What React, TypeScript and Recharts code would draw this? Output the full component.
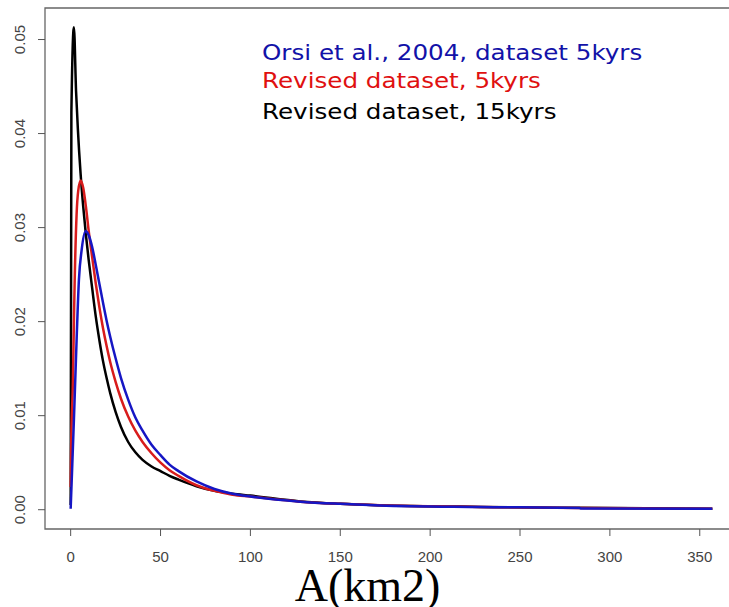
import { LineChart, Line, XAxis, YAxis, ReferenceArea } from "recharts";

// Orsi et al., 2004, dataset 5kyrs (blue)
const orsiX = [0, 0.83, 1.83, 3.33, 4.6, 6.1, 8.3, 10, 12, 14, 16, 18, 20, 22, 25, 28, 32, 36, 40, 45, 50, 55, 60, 70, 80, 90, 100, 127.8, 150, 172, 228, 283, 284, 357];
const orsiY = [0.0001, 0.0044, 0.0097, 0.0182, 0.0245, 0.0276, 0.0296, 0.0292, 0.0279, 0.026, 0.024, 0.022, 0.0201, 0.0184, 0.0161, 0.014, 0.0117, 0.0098, 0.0084, 0.0069, 0.0058, 0.0048, 0.0041, 0.003, 0.0022, 0.0017, 0.0014, 0.00085, 0.00062, 0.00046, 0.00029, 0.00018, 0.00014, 0.0001];

// Revised dataset, 5kyrs (red)
const rev5X = [0, 0.28, 1.28, 1.83, 2.2, 3.3, 4.2, 5.6, 7, 8.5, 10, 12, 14, 16, 18, 20, 22, 25, 28, 32, 36, 40, 45, 50, 55, 60, 70, 80, 90, 100, 127.8, 150, 172, 228, 283, 313, 357];
const rev5Y = [0.0024, 0.0067, 0.0139, 0.0203, 0.024, 0.0314, 0.0339, 0.035, 0.0342, 0.0322, 0.0297, 0.0268, 0.024, 0.0215, 0.0193, 0.0174, 0.0157, 0.0136, 0.0118, 0.0099, 0.0084, 0.0072, 0.006, 0.005, 0.0042, 0.0036, 0.0026, 0.002, 0.0016, 0.0014, 0.00085, 0.00062, 0.00047, 0.0003, 0.00017, 0.00015, 0.0001];

// Revised dataset, 15kyrs (black)
const rev15X = [0, 0.4, 1.8, 3, 4, 5.5, 7, 8.5, 10, 12, 14, 16, 18, 20, 22, 25, 28, 32, 36, 40, 45, 50, 55, 60, 70, 80, 90, 100, 127.8, 150, 172, 228, 283, 357];
const rev15Y = [0.0005, 0.0422, 0.0513, 0.0445, 0.0405, 0.0358, 0.0322, 0.0292, 0.0266, 0.0235, 0.0205, 0.018, 0.0158, 0.014, 0.0124, 0.0104, 0.0088, 0.0072, 0.0061, 0.0053, 0.0046, 0.0041, 0.0036, 0.0032, 0.0025, 0.002, 0.0017, 0.0015, 0.00088, 0.00063, 0.00048, 0.0003, 0.0002, 0.0001];

const xTicks = [0, 50, 100, 150, 200, 250, 300, 350];
const yTicks = [0, 0.01, 0.02, 0.03, 0.04, 0.05];
const legendLabels = ["Orsi et al., 2004, dataset 5kyrs", "Revised dataset, 5kyrs", "Revised dataset, 15kyrs"];
const xTitle = "A(km2)";

const X_DOMAIN: [number, number] = [-14.28, 371.28];
const Y_DOMAIN: [number, number] = [-0.002052, 0.053352];

const toPoints = (xs: number[], ys: number[]) => xs.map((x, i) => ({ x, y: ys[i] }));

const orsi = toPoints(orsiX, orsiY);
const rev5 = toPoints(rev5X, rev5Y);
const rev15 = toPoints(rev15X, rev15Y);

const tickFont = { fontFamily: "'Liberation Sans', Arial, sans-serif", fontSize: 15, fill: "#444" };

const YTick = (props: any) => {
  const { x, y, payload } = props;
  return (
    <text x={x} y={y} transform={`rotate(-90 ${x} ${y})`} textAnchor="middle" {...tickFont}>
      {Number(payload.value).toFixed(2)}
    </text>
  );
};

export default function App() {
  return (
    <div style={{ position: "absolute", left: 0, top: 0, width: 729, height: 607, overflow: "hidden", background: "#fff" }}>
      <LineChart width={742} height={607} margin={{ top: 8, right: 4, left: 0, bottom: 0 }}>
        <XAxis
          type="number"
          dataKey="x"
          domain={X_DOMAIN}
          ticks={xTicks}
          allowDataOverflow
          height={78}
          tickSize={7}
          tickMargin={15}
          axisLine={false}
          tickLine={{ stroke: "#555" }}
          tick={tickFont}
        />
        <YAxis
          type="number"
          dataKey="y"
          domain={Y_DOMAIN}
          ticks={yTicks}
          allowDataOverflow
          width={45}
          tickSize={7}
          tickMargin={13}
          axisLine={false}
          tickLine={{ stroke: "#555" }}
          tick={<YTick />}
        />
        <ReferenceArea
          x1={X_DOMAIN[0]}
          x2={X_DOMAIN[1]}
          y1={Y_DOMAIN[0]}
          y2={Y_DOMAIN[1]}
          fill="none"
          stroke="#666"
          strokeWidth={1.3}
        />
        <Line data={rev15} dataKey="y" type="monotone" stroke="#000" strokeWidth={2.5} dot={false} isAnimationActive={false} />
        <Line data={rev5} dataKey="y" type="monotone" stroke="#d81c1c" strokeWidth={2.5} dot={false} isAnimationActive={false} />
        <Line data={orsi} dataKey="y" type="monotone" stroke="#1616c4" strokeWidth={2.5} dot={false} isAnimationActive={false} />
      </LineChart>
      <svg width={729} height={607} style={{ position: "absolute", left: 0, top: 0, pointerEvents: "none" }}>
        <g fontFamily="'DejaVu Sans', Verdana, sans-serif" fontSize={20.5} transform="translate(262 0) scale(1.2 1)">
          <text x={0} y={60} fill="#1212a8">{legendLabels[0]}</text>
          <text x={0} y={88} fill="#e01010">{legendLabels[1]}</text>
          <text x={0} y={119} fill="#000">{legendLabels[2]}</text>
        </g>
        <text x={367.5} y={601} textAnchor="middle" fontFamily="'Liberation Serif', 'Times New Roman', serif" fontSize={46} fill="#000">
          {xTitle}
        </text>
      </svg>
    </div>
  );
}
